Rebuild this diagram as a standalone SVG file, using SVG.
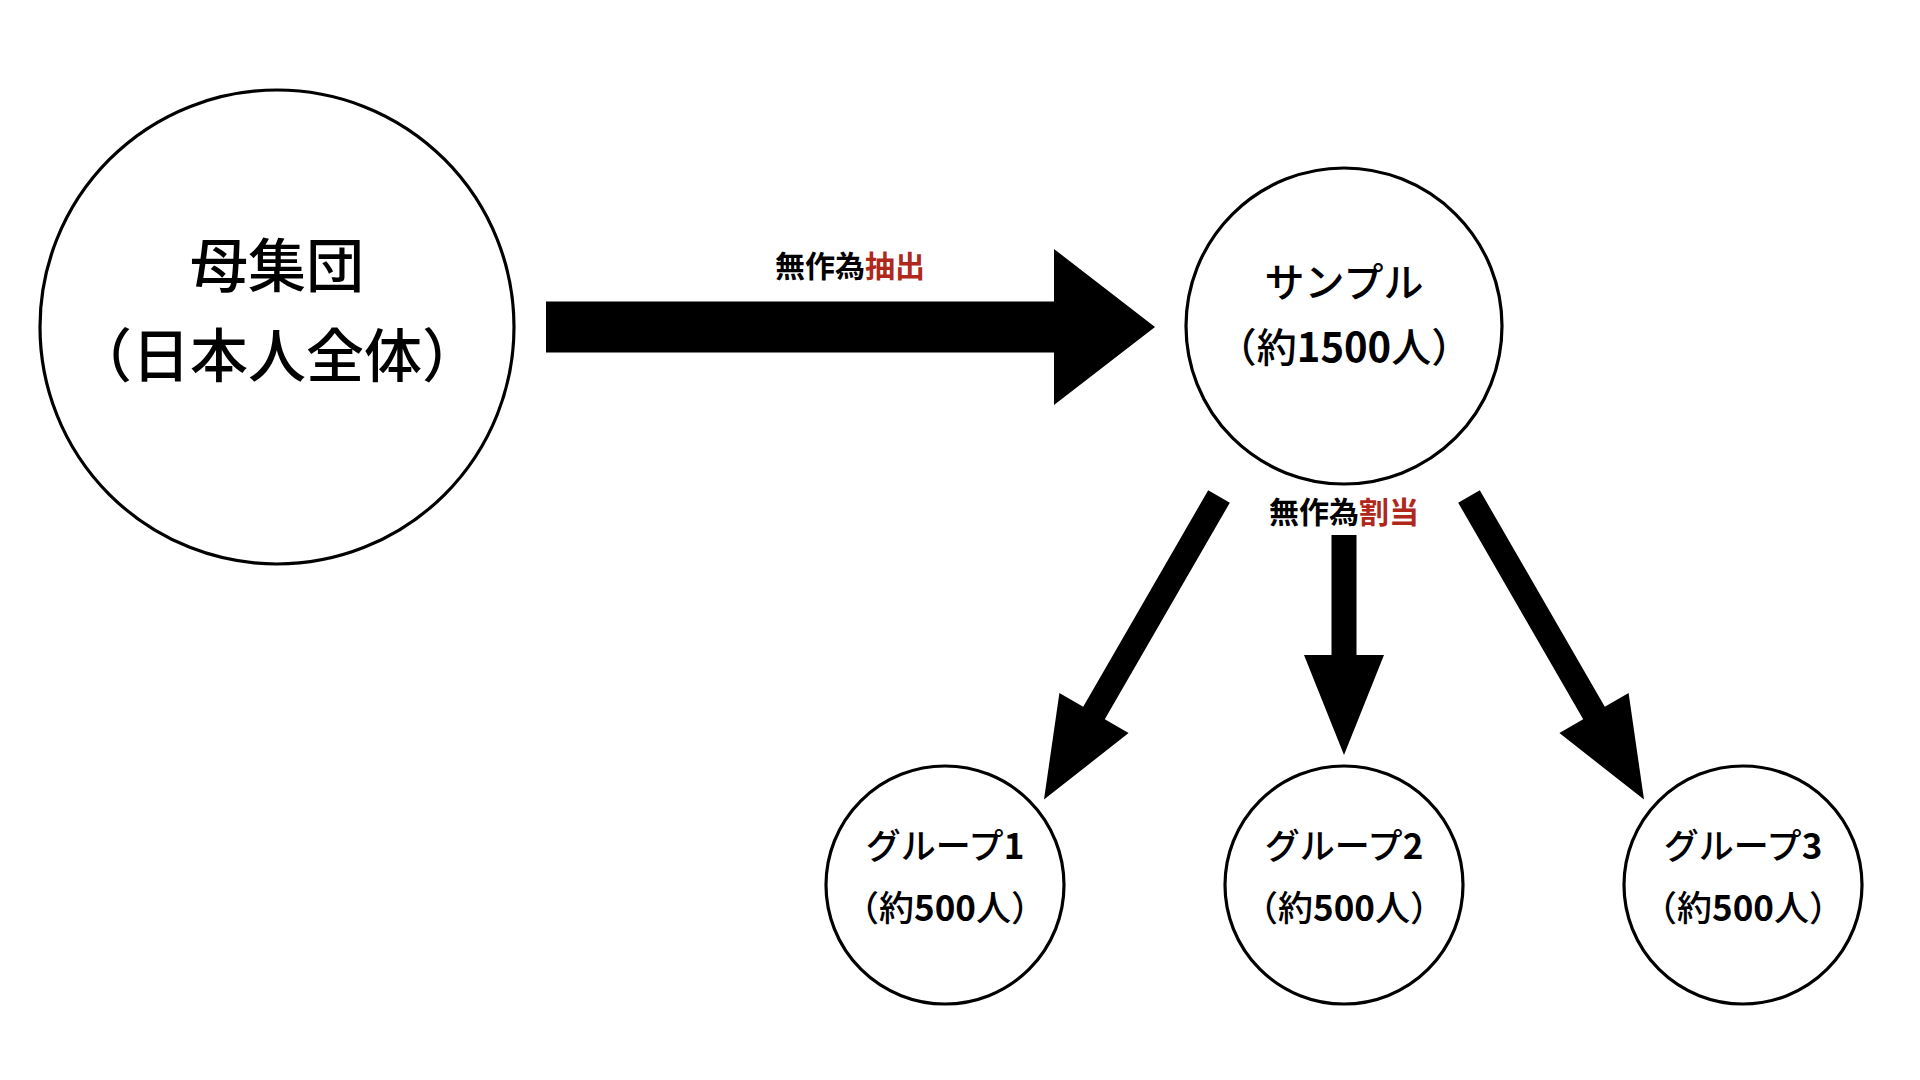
<svg xmlns="http://www.w3.org/2000/svg" width="1920" height="1080" viewBox="0 0 1920 1080">
  <style>
    .node { fill: #ffffff; stroke: #000000; stroke-width: 3.2; }
    .t { font-family: "Noto Sans CJK JP", "Noto Sans", sans-serif; fill: #000000; text-anchor: middle; dominant-baseline: central; font-weight: 500; }
    .big { font-size: 58px; }
    .mid { font-size: 40px; }
    .sm { font-size: 35px; }
    .lbl { font-size: 30px; font-weight: bold; }
    .red { fill: #B0281C; }
    .num { font-weight: bold; }
    .arrow { fill: #000000; stroke: none; }
  </style>
  <rect width="1920" height="1080" fill="#ffffff"/>

  <g id="connectors">
    <polygon id="arrow-extract" class="arrow" points="546,301.5 1054,301.5 1054,249 1155,327 1054,405 1054,352.5 546,352.5"/>
    <polygon id="arrow-g1" class="arrow" points="1208.2,490.25 1229.8,502.75 1104.8,719.25 1128.6,733 1044,799.6 1059.4,693 1083.2,706.75"/>
    <polygon id="arrow-g2" class="arrow" points="1331.5,535 1356.5,535 1356.5,655 1384,655 1344,755 1304,655 1331.5,655"/>
    <polygon id="arrow-g3" class="arrow" points="1479.8,490.25 1458.2,502.75 1583.2,719.25 1559.4,733 1644,799.6 1628.6,693 1604.8,706.75"/>
    <text class="t lbl" x="850" y="264">無作為<tspan class="red">抽出</tspan></text>
    <text class="t lbl" x="1344" y="510">無作為<tspan class="red">割当</tspan></text>
  </g>

  <g id="population">
    <circle class="node" cx="277" cy="327" r="237"/>
    <text class="t big" x="277" y="261.5">母集団</text>
    <text class="t big" x="277" y="351.5">（日本人全体）</text>
  </g>

  <g id="sample">
    <circle class="node" cx="1344" cy="326" r="158"/>
    <text class="t mid" x="1344" y="280">サンプル</text>
    <text class="t mid" x="1344" y="345">（約<tspan class="num">1500</tspan>人）</text>
  </g>

  <g id="group1">
    <circle class="node" cx="945" cy="885" r="119"/>
    <text class="t sm" x="945" y="843">グループ<tspan class="num">1</tspan></text>
    <text class="t sm" x="945" y="905">（約<tspan class="num">500</tspan>人）</text>
  </g>

  <g id="group2">
    <circle class="node" cx="1344" cy="885" r="119"/>
    <text class="t sm" x="1344" y="843">グループ<tspan class="num">2</tspan></text>
    <text class="t sm" x="1344" y="905">（約<tspan class="num">500</tspan>人）</text>
  </g>

  <g id="group3">
    <circle class="node" cx="1743" cy="885" r="119"/>
    <text class="t sm" x="1743" y="843">グループ<tspan class="num">3</tspan></text>
    <text class="t sm" x="1743" y="905">（約<tspan class="num">500</tspan>人）</text>
  </g>
</svg>
